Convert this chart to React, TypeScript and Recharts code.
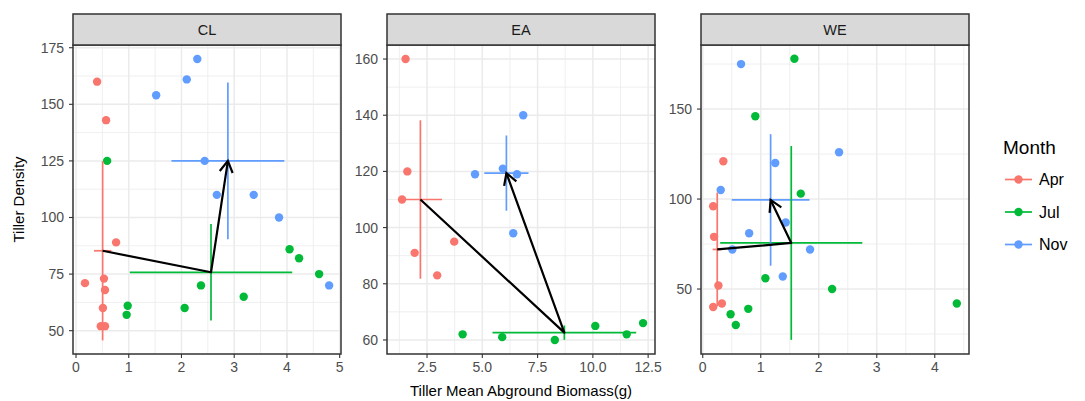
import React from 'react';
import { ScatterChart, Scatter, XAxis, YAxis, CartesianGrid } from 'recharts';

const months = ['Apr', 'Jul', 'Nov'];
const monthColors = ['#F8766D', '#00BA38', '#619CFF'];

// ---- CL ----
const clApr = [
  { x: 0.4, y: 160 }, { x: 0.57, y: 143 }, { x: 0.17, y: 71 }, { x: 0.53, y: 73 }, { x: 0.55, y: 68 },
  { x: 0.51, y: 60 }, { x: 0.47, y: 52 }, { x: 0.55, y: 52 }, { x: 0.76, y: 89 },
];
const clJul = [
  { x: 0.59, y: 125 }, { x: 0.98, y: 61 }, { x: 0.96, y: 57 }, { x: 2.06, y: 60 }, { x: 2.37, y: 70 },
  { x: 3.18, y: 65 }, { x: 4.05, y: 86 }, { x: 4.23, y: 82 }, { x: 4.61, y: 75 },
];
const clNov = [
  { x: 2.3, y: 170 }, { x: 2.1, y: 161 }, { x: 1.52, y: 154 }, { x: 2.44, y: 125 }, { x: 2.67, y: 110 },
  { x: 3.37, y: 110 }, { x: 3.85, y: 100 }, { x: 4.8, y: 70 },
];
const clMeans = [
  { x: 0.505, y: 85.3, ex: 0.165, ey: 39.6 },
  { x: 2.56, y: 75.8, ex: 1.54, ey: 21.3 },
  { x: 2.88, y: 125, ex: 1.07, ey: 34.65 },
];

// ---- EA ----
const eaApr = [
  { x: 1.53, y: 160 }, { x: 1.61, y: 120 }, { x: 1.37, y: 110 }, { x: 1.94, y: 91 }, { x: 3.73, y: 95 }, { x: 2.96, y: 83 },
];
const eaJul = [
  { x: 4.11, y: 62 }, { x: 5.9, y: 61 }, { x: 8.28, y: 60 }, { x: 10.11, y: 65 }, { x: 11.53, y: 62 }, { x: 12.27, y: 66 },
];
const eaNov = [
  { x: 6.85, y: 140 }, { x: 4.67, y: 119 }, { x: 5.93, y: 121 }, { x: 6.57, y: 119 }, { x: 6.4, y: 98 },
];
const eaMeans = [
  { x: 2.2, y: 110, ex: 0.98, ey: 28.2 },
  { x: 8.71, y: 62.6, ex: 3.25, ey: 2.55 },
  { x: 6.09, y: 119.4, ex: 1.0, ey: 13.4 },
];

// ---- WE ----
const weApr = [
  { x: 0.355, y: 121 }, { x: 0.18, y: 96 }, { x: 0.195, y: 79 }, { x: 0.27, y: 52 }, { x: 0.33, y: 42 }, { x: 0.18, y: 40 },
];
const weJul = [
  { x: 1.58, y: 178 }, { x: 0.906, y: 146 }, { x: 1.69, y: 103 }, { x: 1.08, y: 56 }, { x: 2.23, y: 50 },
  { x: 4.38, y: 42 }, { x: 0.785, y: 39 }, { x: 0.48, y: 36 }, { x: 0.57, y: 30 },
];
const weNov = [
  { x: 0.66, y: 175 }, { x: 1.25, y: 120 }, { x: 2.35, y: 126 }, { x: 0.31, y: 105 }, { x: 1.43, y: 87 },
  { x: 0.8, y: 81 }, { x: 0.51, y: 72 }, { x: 1.85, y: 72 }, { x: 1.38, y: 57 },
];
const weMeans = [
  { x: 0.25, y: 72, ex: 0.08, ey: 31.6 },
  { x: 1.526, y: 75.6, ex: 1.225, ey: 53.85 },
  { x: 1.17, y: 99.5, ex: 0.67, ey: 36.55 },
];

// ---- axes ----
const clXTicks = [0, 1, 2, 3, 4, 5];
const clXMinor = [0.5, 1.5, 2.5, 3.5, 4.5];
const clYTicks = [50, 75, 100, 125, 150, 175];
const clYMinor = [62.5, 87.5, 112.5, 137.5, 162.5];
const eaXTicks = [2.5, 5, 7.5, 10, 12.5];
const eaXMinor = [1.25, 3.75, 6.25, 8.75, 11.25];
const eaYTicks = [60, 80, 100, 120, 140, 160];
const eaYMinor = [70, 90, 110, 130, 150];
const weXTicks = [0, 1, 2, 3, 4];
const weXMinor = [0.5, 1.5, 2.5, 3.5, 4.5];
const weYTicks = [50, 100, 150];
const weYMinor = [25, 75, 125, 175];

const panels = [
  {
    name: 'CL', left: 73, xDomain: [-0.057, 5.025], yDomain: [39.7, 176.2],
    xTicks: clXTicks, xMinor: clXMinor, yTicks: clYTicks, yMinor: clYMinor,
    series: [clApr, clJul, clNov], means: clMeans, xFmt: (v: number) => String(v),
  },
  {
    name: 'EA', left: 387, xDomain: [0.69, 12.81], yDomain: [55, 165],
    xTicks: eaXTicks, xMinor: eaXMinor, yTicks: eaYTicks, yMinor: eaYMinor,
    series: [eaApr, eaJul, eaNov], means: eaMeans, xFmt: (v: number) => v.toFixed(1),
  },
  {
    name: 'WE', left: 701, xDomain: [-0.03, 4.59], yDomain: [13.9, 185.6],
    xTicks: weXTicks, xMinor: weXMinor, yTicks: weYTicks, yMinor: weYMinor,
    series: [weApr, weJul, weNov], means: weMeans, xFmt: (v: number) => String(v),
  },
];

const PLOT_W = 268;
const PLOT_TOP = 45;
const PLOT_BOTTOM = 354;
const AXIS_W = 50;
const RIGHT_PAD = 20;
const H = 401;

const noShape = () => <g />;

const ArrowLine = (props: any) => {
  const pts = props.points || [];
  if (pts.length < 2) return <g />;
  const d = pts.map((p: any, i: number) => `${i ? 'L' : 'M'}${p.x},${p.y}`).join(' ');
  const a = pts[pts.length - 2];
  const b = pts[pts.length - 1];
  const ang = Math.atan2(b.y - a.y, b.x - a.x);
  const L = 13;
  const phi = Math.PI / 6;
  const w1x = b.x - L * Math.cos(ang - phi);
  const w1y = b.y - L * Math.sin(ang - phi);
  const w2x = b.x - L * Math.cos(ang + phi);
  const w2y = b.y - L * Math.sin(ang + phi);
  return (
    <g>
      <path d={d} fill="none" stroke="#000" strokeWidth={2.2} strokeLinejoin="round" />
      <path d={`M${w1x},${w1y} L${b.x},${b.y} L${w2x},${w2y}`} fill="none" stroke="#000" strokeWidth={2.2} strokeLinejoin="miter" />
    </g>
  );
};

const tickStyle = { fill: '#4D4D4D', fontSize: 14 };

function Panel({ p }: { p: any }) {
  return (
    <div style={{ position: 'absolute', left: p.left - AXIS_W, top: 0 }}>
      <ScatterChart
        width={AXIS_W + PLOT_W + RIGHT_PAD}
        height={H}
        margin={{ top: PLOT_TOP, right: RIGHT_PAD, bottom: 0, left: 0 }}
      >
        <CartesianGrid verticalValues={p.xMinor} horizontalValues={p.yMinor} stroke="#EBEBEB" strokeWidth={0.8} fill="#FFFFFF" />
        <CartesianGrid verticalValues={p.xTicks} horizontalValues={p.yTicks} stroke="#EBEBEB" strokeWidth={1.5} />
        <XAxis
          type="number" dataKey="x" domain={p.xDomain} ticks={p.xTicks} allowDataOverflow interval={0}
          height={H - PLOT_BOTTOM} axisLine={false} tickSize={4} tickMargin={4}
          tickLine={{ stroke: '#333333', strokeWidth: 1.1 }} tick={tickStyle} tickFormatter={p.xFmt}
        />
        <YAxis
          type="number" dataKey="y" domain={p.yDomain} ticks={p.yTicks} allowDataOverflow interval={0}
          width={AXIS_W} axisLine={false} tickSize={4} tickMargin={5}
          tickLine={{ stroke: '#333333', strokeWidth: 1.1 }} tick={tickStyle}
        />
        {p.series.map((s: any, i: number) => (
          <Scatter
            key={'pts' + i}
            data={s}
            isAnimationActive={false}
            shape={(sp: any) => <circle cx={sp.cx} cy={sp.cy} r={4.2} fill={monthColors[i]} />}
          />
        ))}
        {p.means.map((m: any, i: number) => (
          <Scatter
            key={'eh' + i}
            data={[{ x: m.x - m.ex, y: m.y }, { x: m.x + m.ex, y: m.y }]}
            isAnimationActive={false}
            shape={noShape}
            line={{ stroke: monthColors[i], strokeWidth: 1.7 }}
          />
        ))}
        {p.means.map((m: any, i: number) => (
          <Scatter
            key={'ev' + i}
            data={[{ x: m.x, y: m.y - m.ey }, { x: m.x, y: m.y + m.ey }]}
            isAnimationActive={false}
            shape={noShape}
            line={{ stroke: monthColors[i], strokeWidth: 1.7 }}
          />
        ))}
        <Scatter data={p.means} isAnimationActive={false} shape={noShape} line={ArrowLine} />
      </ScatterChart>
    </div>
  );
}

export default function App() {
  const legendY = [179.5, 212, 244.5];
  return (
    <div
      style={{
        position: 'absolute', left: 0, top: 0, width: 1085, height: H, background: '#FFFFFF',
        fontFamily: '"Liberation Sans", Arial, Helvetica, sans-serif', overflow: 'hidden',
      }}
    >
      {panels.map((p) => (
        <Panel key={p.name} p={p} />
      ))}
      <svg width={1085} height={H} style={{ position: 'absolute', left: 0, top: 0, pointerEvents: 'none' }}>
        {panels.map((p) => (
          <g key={'frame' + p.name}>
            <rect x={p.left} y={PLOT_TOP} width={PLOT_W} height={PLOT_BOTTOM - PLOT_TOP} fill="none" stroke="#333333" strokeWidth={1.5} />
            <rect x={p.left} y={14} width={PLOT_W} height={PLOT_TOP - 14} fill="#D9D9D9" stroke="#333333" strokeWidth={1.5} />
            <text x={p.left + PLOT_W / 2} y={34.5} textAnchor="middle" fontSize={14.5} fill="#1A1A1A">
              {p.name}
            </text>
          </g>
        ))}
        <text x={521} y={396} textAnchor="middle" fontSize={15} fill="#000">
          Tiller Mean Abground Biomass(g)
        </text>
        <text transform="translate(23.5,199.5) rotate(-90)" textAnchor="middle" fontSize={15} fill="#000">
          Tiller Density
        </text>
        <text x={1003} y={154} fontSize={19} fill="#000">
          Month
        </text>
        {months.map((m, i) => (
          <g key={'lg' + m}>
            <line x1={1005} x2={1032} y1={legendY[i]} y2={legendY[i]} stroke={monthColors[i]} strokeWidth={1.7} />
            <circle cx={1018.5} cy={legendY[i]} r={4.2} fill={monthColors[i]} />
            <text x={1039} y={legendY[i] + 5.7} fontSize={16} fill="#000">
              {m}
            </text>
          </g>
        ))}
      </svg>
    </div>
  );
}
